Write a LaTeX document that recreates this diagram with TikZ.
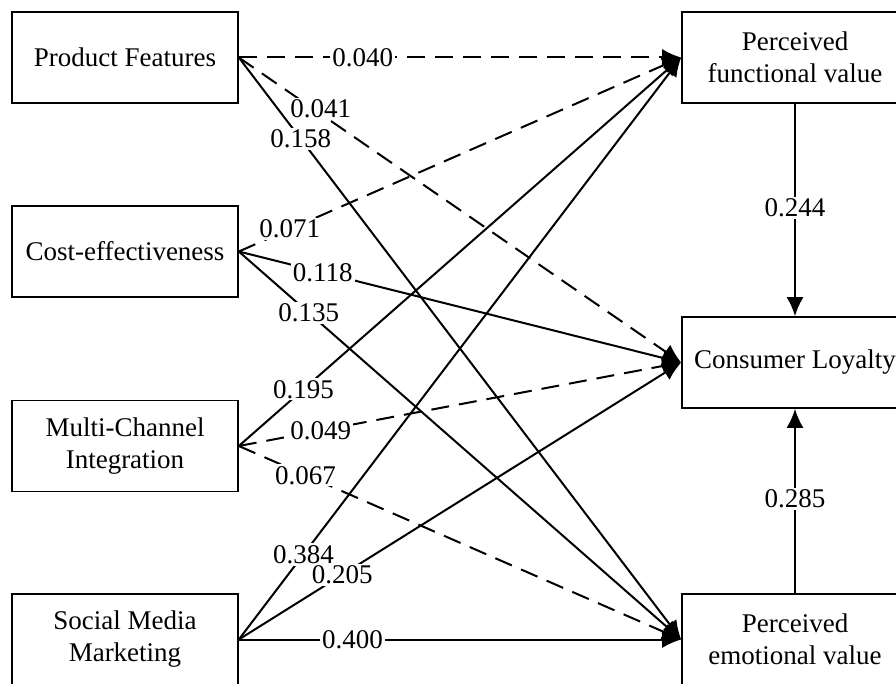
\documentclass[tikz,border=0pt]{standalone}
\usepackage{fontspec}
\setmainfont{Liberation Serif}
\usetikzlibrary{arrows.meta}
\definecolor{labbg}{rgb}{0.995,0.995,0.995}
\begin{document}
\begin{tikzpicture}[x=1pt,y=-1pt,
  box/.style={draw,line width=1.6pt,minimum width=226pt,minimum height=91pt,inner sep=0pt,align=center,font=\fontsize{27}{32}\selectfont},
  conn/.style={line width=2pt,-{Latex[length=19pt,width=17pt]}},
  dconn/.style={conn,dash pattern=on 18pt off 10pt},
  lab/.style={fill=labbg,text=black,inner sep=2pt,font=\fontsize{27}{30}\selectfont}]
\useasboundingbox (0,0) rectangle (896,684);
\clip (0,0) rectangle (896,684);
\fill[white] (0,0) rectangle (896,684);
\node[box] (pf) at (125,57.5) {Product Features};
\node[box] (ce) at (125,251.5) {Cost-effectiveness};
\node[box] (mc) at (125,446) {Multi-Channel\\Integration};
\node[box] (sm) at (125,639.5) {Social Media\\Marketing};
\node[box] (pfv) at (795,57.5) {Perceived\\functional value};
\node[box] (cl) at (795,362.5) {Consumer Loyalty};
\node[box] (pev) at (795,639.5) {Perceived\\emotional value};
% from Product Features
\draw[dconn] (pf.east) -- coordinate[pos=0.28] (l1) (pfv.west);
\draw[dconn] (pf.east) -- coordinate[pos=0.185] (l2) (cl.west);
\draw[conn] (pf.east) -- coordinate[pos=0.14] (l3) (pev.west);
% from Cost-effectiveness
\draw[dconn] (ce.east) -- coordinate[pos=0.115] (l4) (pfv.west);
\draw[conn] (ce.east) -- coordinate[pos=0.19] (l5) (cl.west);
\draw[conn] (ce.east) -- coordinate[pos=0.158] (l6) (pev.west);
% from Multi-Channel Integration
\draw[conn] (mc.east) -- coordinate[pos=0.146] (l7) (pfv.west);
\draw[dconn] (mc.east) -- coordinate[pos=0.185] (l8) (cl.west);
\draw[dconn] (mc.east) -- coordinate[pos=0.151] (l9) (pev.west);
% from Social Media Marketing
\draw[conn] (sm.east) -- coordinate[pos=0.146] (l10) (pfv.west);
\draw[conn] (sm.east) -- coordinate[pos=0.234] (l11) (cl.west);
\draw[conn] (sm.east) -- coordinate[pos=0.257] (l12) (pev.west);
% mediators
\draw[conn] (pfv.south) -- coordinate[pos=0.49] (l13) (cl.north);
\draw[conn] (pev.north) -- coordinate[pos=0.51] (l14) (cl.south);
% labels
\node[lab] (t1) at (l1) {0.040};
\node[lab,yshift=5pt] (t2) at (l2) {0.041};
\node[lab] (t3) at (l3) {0.158};
\node[lab] (t4) at (l4) {0.071};
\node[lab] (t5) at (l5) {0.118};
\node[lab] (t6) at (l6) {0.135};
\node[lab] (t7) at (l7) {0.195};
\node[lab] (t8) at (l8) {0.049};
\node[lab] (t9) at (l9) {0.067};
\node[lab] (t10) at (l10) {0.384};
\node[lab] (t11) at (l11) {0.205};
\node[lab] (t12) at (l12) {0.400};
\node[lab] (t13) at (l13) {0.244};
\node[lab] (t14) at (l14) {0.285};
\end{tikzpicture}
\end{document}
